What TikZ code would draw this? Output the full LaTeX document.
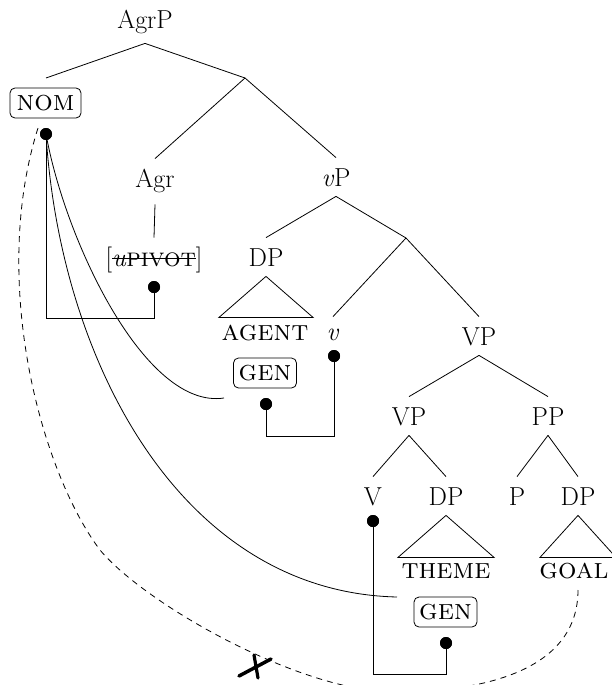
\documentclass[tikz,border=0pt]{standalone}
\usepackage{fontspec}
\newcommand\strikeit[1]{\setbox0=\hbox{#1}\rlap{\copy0}\rule[0.26em]{\wd0}{0.045em}}
\newcommand\scbig[1]{{\fontsize{29}{30}\selectfont\textsc{#1}}}
\begin{document}
\begin{tikzpicture}[x=1pt,y=-1pt,
  font=\fontsize{26}{30}\selectfont,
  every path/.style={line width=0.8pt},
  lab/.style={inner xsep=0pt, inner ysep=10pt, text height=18pt, text depth=0pt, anchor=base},
  sclab/.style={anchor=base, inner sep=0pt},
  feat/.style={draw, rounded corners=5pt, inner sep=0pt, line width=0.8pt},
  blob/.style={circle, fill=black, inner sep=0pt, minimum size=12pt},
  conn/.style={line width=0.8pt},
  deriv/.style={line width=0.8pt},
  blocked/.style={line width=0.8pt, dash pattern=on 6pt off 5pt}
]
\useasboundingbox (0,0) rectangle (611,685);

% ---- labels ----
\node[lab, text depth=4pt] (agrp) at (145,29) {AgrP};
\node[feat, minimum width=71pt, minimum height=30pt] (nom) at (45.5,103) {\scbig{nom}};
\node[lab, text depth=7pt] (agr) at (155,187) {Agr};
\node[lab] (vp) at (336,186) {\textit{v}P};
\node[lab] (piv) at (154,266) {[\strikeit{\textit{u}\textsc{pivot}}]};
\node[lab] (dpa) at (266,266) {DP};
\node[sclab] (agent) at (265,340) {\scbig{agent}};
\node[lab, text height=13pt] (v) at (333,340) {\textit{v}};
\node[feat, minimum width=63pt, minimum height=30pt] (gena) at (265,373) {\scbig{gen}};
\node[lab] (VP) at (479,345) {VP};
\node[lab] (VPb) at (409,425) {VP};
\node[lab] (PP) at (548,425) {PP};
\node[lab] (V) at (373,505) {V};
\node[lab] (dpt) at (446,505) {DP};
\node[lab] (P) at (517,505) {P};
\node[lab] (dpg) at (578,505) {DP};
\node[sclab] (theme) at (446,578) {\scbig{theme}};
\node[sclab] (goal) at (574,578) {\scbig{goal}};
\node[feat, minimum width=63pt, minimum height=30pt] (genb) at (445.5,612) {\scbig{gen}};

% ---- dots ----
\node[blob] (nomdot) at (46,134) {};
\node[blob] (pivdot) at (154,287) {};
\node[blob] (vdot) at (334,356) {};
\node[blob] (genadot) at (266,404) {};
\node[blob] (Vdot) at (373,521) {};
\node[blob] (genbdot) at (446,643) {};

% ---- helper coordinates ----
\coordinate (b1) at (245,78);
\coordinate (nomtop) at (46,78);
\coordinate (b2) at (406,238);
\coordinate (e1) at (154,318);
\coordinate (e2) at (334,436);
\coordinate (e3) at (373,674);
\coordinate (c1) at (224,398);
\coordinate (c2) at (397,597);
\coordinate (goalb) at (578,590);
\coordinate (d1) at (395,692);
\coordinate (d2) at (100,550);
\coordinate (nomleft) at (38,128);
\coordinate (xmark) at (256,667);

% ---- tree ----
\draw (agrp.south) -- (nomtop);
\draw (agrp.south) -- (b1);
\draw (b1) -- (agr.north);
\draw (b1) -- (vp.north);
\draw (agr.south) -- (piv.north);
\draw (vp.south) -- (dpa.north);
\draw (vp.south) -- (b2);
\draw (b2) -- (v.north);
\draw (b2) -- (VP.north);
\draw (VP.south) -- (VPb.north);
\draw (VP.south) -- (PP.north);
\draw (VPb.south) -- (V.north);
\draw (VPb.south) -- (dpt.north);
\draw (PP.south) -- (P.north);
\draw (PP.south) -- (dpg.north);

% triangles
\draw (dpa.south) -- ++(-47,41) -- ++(94,0) -- cycle;
\draw (dpt.south) -- ++(-48,42) -- ++(96,0) -- cycle;
\draw (dpg.south) -- ++(-38,42) -- ++(76,0) -- cycle;

% ---- connectors ----
\draw[conn] (pivdot.center) -- (e1) -| (nomdot.center);
\draw[conn] (vdot.center) -- (e2) -| (genadot.center);
\draw[conn] (Vdot.center) -- (e3) -| (genbdot.center);

\draw[deriv] (nomdot.center) .. controls (65,240) and (145,410) .. (c1);
\draw[deriv] (nomdot.center) .. controls (60,360) and (180,592) .. (c2);

\draw[blocked] (goalb) .. controls (578,672) and (480,692) .. (d1)
  .. controls (300,692) and (145,604) .. (d2)
  .. controls (40,470) and (-10,280) .. (nomleft);

% X mark
\draw[line width=3.5pt, line cap=round] ([shift={(-17,9)}]xmark) -- ([shift={(15,-8)}]xmark);
\draw[line width=3.2pt, line cap=round] ([shift={(-2,-12)}]xmark) -- ([shift={(2,11)}]xmark);

% dots on top
\foreach \d in {nomdot,pivdot,vdot,genadot,Vdot,genbdot} \fill (\d) circle (6pt);
\end{tikzpicture}
\end{document}
